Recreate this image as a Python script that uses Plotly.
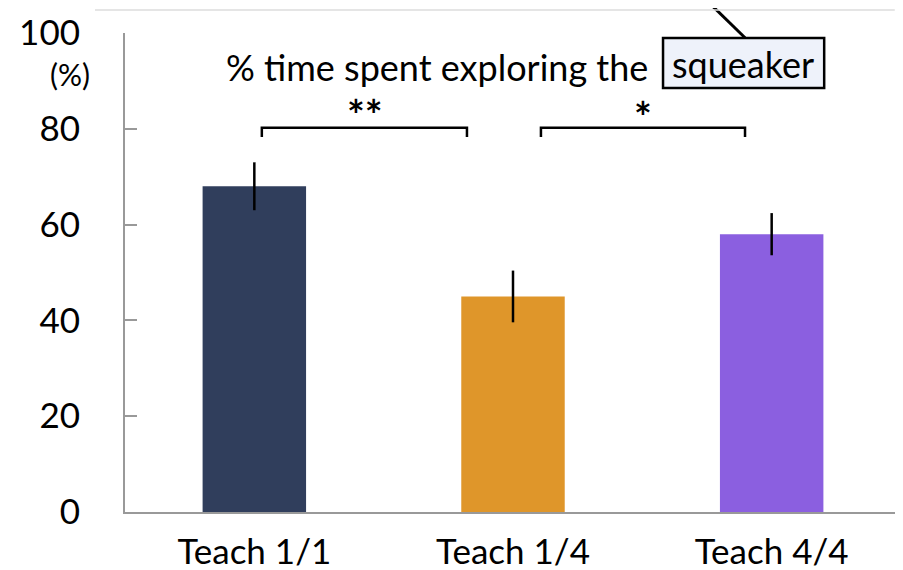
import plotly.graph_objects as go

categories = ["Teach 1/1", "Teach 1/4", "Teach 4/4"]
values = [68, 45, 58]
errors = [5.0, 5.4, 4.4]
colors = ["#303e5c", "#df962a", "#8b5fe0"]
y_ticks = [0, 20, 40, 60, 80, 100]

FONT = "Lato"

fig = go.Figure()
fig.add_trace(go.Bar(
    x=[0, 1, 2], y=values, width=0.4,
    marker=dict(color=colors, line=dict(width=0)),
    error_y=dict(type="data", array=errors, color="black", thickness=2.5, width=0),
    showlegend=False,
))

fig.update_layout(
    width=895, height=562,
    margin=dict(l=117, r=2, t=25, b=58, autoexpand=False),
    plot_bgcolor="white", paper_bgcolor="white",
    font=dict(family=FONT, color="black"),
    xaxis=dict(range=[-0.5, 2.5], tickvals=[0, 1, 2], ticktext=categories,
               showline=True, linecolor="#999999", linewidth=2, ticks="",
               showgrid=False, zeroline=False, tickfont=dict(size=35, family=FONT),
               ticklabelstandoff=8, automargin=False),
    yaxis=dict(range=[0, 100], tickvals=y_ticks, ticktext=[str(t) for t in y_ticks],
               showline=True, linecolor="#999999", linewidth=2,
               ticks="inside", ticklen=12, tickwidth=2, tickcolor="#999999",
               showgrid=False, zeroline=False, tickfont=dict(size=35, family=FONT),
               ticklabelstandoff=36, automargin=False),
)

blk = dict(color="black", width=2.5)
# significance brackets
for x0, x1 in [(0.029, 0.822), (1.108, 1.897)]:
    fig.add_shape(type="path", xref="x", yref="y",
                  path=f"M {x0},78.3 L {x0},80.2 L {x1},80.2 L {x1},78.3", line=blk)
fig.add_annotation(x=0.428, y=82.8, xref="x", yref="y", text="<b>**</b>", showarrow=False,
                   font=dict(size=42, family=FONT))
fig.add_annotation(x=1.503, y=82.4, xref="x", yref="y", text="<b>*</b>", showarrow=False,
                   font=dict(size=42, family=FONT))

# title with boxed word
fig.add_annotation(x=1.53, y=93.0, xref="x", yref="y", xanchor="right",
                   text="% time spent exploring the", showarrow=False,
                   font=dict(size=36, family=FONT))
fig.add_shape(type="rect", xref="x", yref="y", x0=1.580, x1=2.203, y0=88.5, y1=98.96,
              line=dict(color="black", width=2.5), fillcolor="#eef2fa", layer="above")
fig.add_annotation(x=1.891, y=93.6, xref="x", yref="y", text="squeaker", showarrow=False,
                   font=dict(size=36, family=FONT))

# pointer line and faint top rule
fig.add_shape(type="line", xref="paper", yref="paper", x0=0.749, y0=1.069, x1=0.799, y1=0.99,
              line=dict(color="black", width=3))
fig.add_shape(type="line", xref="paper", yref="paper", x0=-0.0387, y0=1.048, x1=0.992, y1=1.048,
              line=dict(color="#dddddd", width=1.5))

# units label
fig.add_annotation(x=-0.042, y=91.5, xref="paper", yref="y", xanchor="right",
                   text="(%)", showarrow=False, font=dict(size=30, family=FONT))

fig.write_html("out.html")
